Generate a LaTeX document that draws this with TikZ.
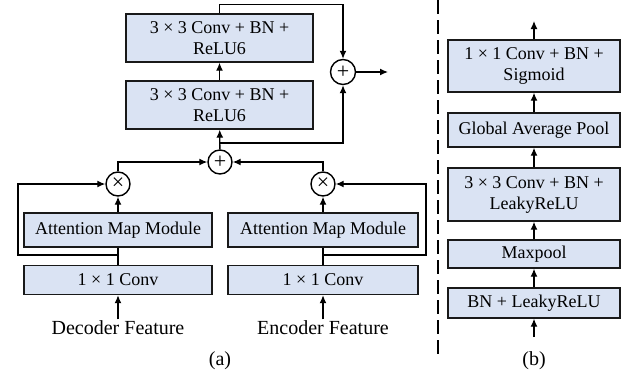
\documentclass[tikz,border=0pt]{standalone}
\usepackage{fontspec}
\setmainfont{Liberation Serif}
\usetikzlibrary{arrows.meta}

\definecolor{boxfill}{HTML}{DAE3F3}

\tikzset{
	blk/.style={draw=black!90, line width=1.4pt, fill=boxfill, align=center, inner sep=0pt, font=\fontsize{18}{21}\selectfont},
	op/.style={draw, circle, line width=1.4pt, minimum size=25pt, inner sep=0pt, font=\fontsize{22}{22}\selectfont},
	lbl/.style={inner sep=1pt, font=\fontsize{20}{22}\selectfont},
}

\begin{document}
\begin{tikzpicture}[x=1pt, y=-1pt, line width=1.3pt, >={Latex[length=8pt,width=7pt]}]

\useasboundingbox (0,0) rectangle (624,372);

% (a)
\node [blk, minimum width=187pt, minimum height=48pt] (c3a) at (219.5,38) {3 × 3 Conv + BN +\\ReLU6};
\node [blk, minimum width=187pt, minimum height=48pt] (c3b) at (219.5,105) {3 × 3 Conv + BN +\\ReLU6};
\node [op] (plus2) at (343,72) {+};
\node [op, minimum size=24pt] (plus1) at (220,162) {+};
\node [op, minimum size=24pt] (mulL) at (118,184) {×};
\node [op, minimum size=24pt] (mulR) at (323,184) {×};
\node [blk, minimum width=188pt, minimum height=34pt] (attL) at (118,230) {Attention Map Module};
\node [blk, minimum width=190pt, minimum height=34pt] (attR) at (323,230) {Attention Map Module};
\node [blk, minimum width=188pt, minimum height=29pt] (convL) at (118,280) {1 × 1 Conv};
\node [blk, minimum width=190pt, minimum height=29pt] (convR) at (323,280) {1 × 1 Conv};
\node [lbl] (dec) at (118,328) {Decoder Feature};
\node [lbl] (enc) at (323,328) {Encoder Feature};
\node [lbl] (capa) at (220,361) {(a)};

\coordinate (jl) at (118,255);
\coordinate (jr) at (323,255);
\coordinate (br) at (220,143);
\coordinate (out) at (388,72);

\draw [->] (dec) -- (convL);
\draw [->] (enc) -- (convR);
\draw (convL) -- (attL);
\draw (convR) -- (attR);
\draw [->] (attL) -- (mulL);
\draw [->] (attR) -- (mulR);
\draw [->] (jl) -- ++(-100,0) |- (mulL.west);
\draw [->] (jr) -- ++(103,0) |- (mulR.east);
\draw [->] (mulL.north) |- (plus1.west);
\draw [->] (mulR.north) |- (plus1.east);
\draw [->] (plus1) -- (c3b);
\draw [->] (br) -| (plus2.south);
\draw [->] (c3b) -- (c3a);
\draw [->] (c3a.north) -- ++(0,-9) -| (plus2.north);
\draw [->] (plus2) -- (out);

% (b)
\draw [dashed, line width=1.8pt, dash pattern=on 14pt off 6pt] (438,0) -- (438,356);

\node [blk, minimum width=172pt, minimum height=52pt] (sig) at (534,66) {1 × 1 Conv + BN +\\Sigmoid};
\node [blk, minimum width=172pt, minimum height=34pt] (gap) at (534,130) {Global Average Pool};
\node [blk, minimum width=172pt, minimum height=53pt] (lrc) at (534,194.5) {3 × 3 Conv + BN +\\LeakyReLU};
\node [blk, minimum width=172pt, minimum height=28pt] (mp) at (534,254) {Maxpool};
\node [blk, minimum width=172pt, minimum height=30pt] (bnl) at (534,303) {BN + LeakyReLU};
\node [lbl] (capb) at (534,361) {(b)};

\coordinate (rin) at (534,337);
\coordinate (rout) at (534,21);

\draw [->] (rin) -- (bnl);
\foreach \a/\b in {bnl/mp,mp/lrc,lrc/gap,gap/sig} {
	\draw [->] (\a) -- (\b);
}
\draw [->] (sig) -- (rout);

\end{tikzpicture}
\end{document}
